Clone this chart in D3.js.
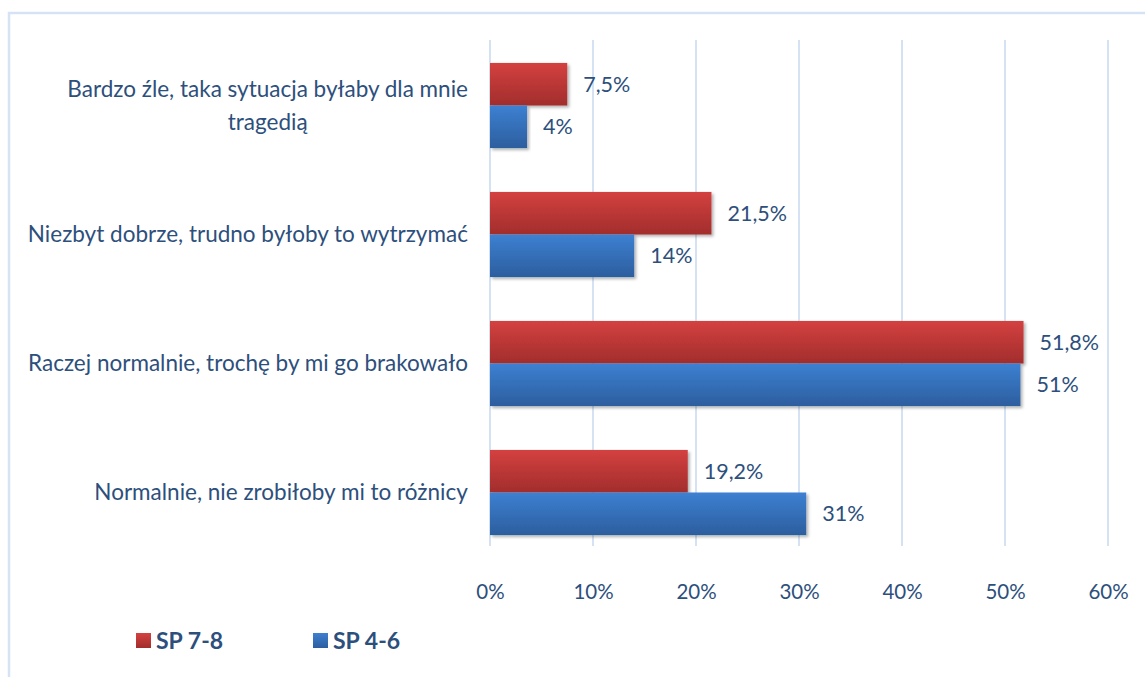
<!DOCTYPE html>
<html><head><meta charset="utf-8">
<script src="https://cdn.jsdelivr.net/npm/d3@7"></script>
<style>body{margin:0;background:#fff;} svg{display:block;}</style>
</head><body>
<script>
const categories = [
  ["Bardzo źle, taka sytuacja byłaby dla mnie", "tragedią"],
  ["Niezbyt dobrze, trudno byłoby to wytrzymać"],
  ["Raczej normalnie, trochę by mi go brakowało"],
  ["Normalnie, nie zrobiłoby mi to różnicy"]
];
const seriesNames = ["SP 7-8", "SP 4-6"];
const sp78Values = [7.5, 21.5, 51.8, 19.2];
const sp78Labels = ["7,5%", "21,5%", "51,8%", "19,2%"];
const sp46Values = [3.6, 14.0, 51.5, 30.7];
const sp46Labels = ["4%", "14%", "51%", "31%"];
const tickValues = [0, 10, 20, 30, 40, 50, 60];
const tickLabels = ["0%", "10%", "20%", "30%", "40%", "50%", "60%"];

const W = 1145, H = 677;
const txt = "#2d4f7c";
const font = "Lato, 'Open Sans', sans-serif";
const svg = d3.select("body").append("svg").attr("width", W).attr("height", H);
const defs = svg.append("defs");
function grad(id, c1, c2) {
  const g = defs.append("linearGradient").attr("id", id).attr("x1", 0).attr("y1", 0).attr("x2", 0).attr("y2", 1);
  g.append("stop").attr("offset", "0%").attr("stop-color", c1);
  g.append("stop").attr("offset", "100%").attr("stop-color", c2);
}
grad("gRed", "#d44140", "#a22d2c");
grad("gBlue", "#3d80d2", "#2c5e9e");
const f = defs.append("filter").attr("id", "sh").attr("x", "-5%").attr("y", "-10%").attr("width", "115%").attr("height", "130%");
f.append("feDropShadow").attr("dx", 2).attr("dy", 2).attr("stdDeviation", 1.5).attr("flood-color", "#000").attr("flood-opacity", 0.3);

// frame
svg.append("path").attr("d", "M9,677 V13 H1145").attr("fill", "none").attr("stroke", "#d5e3f4").attr("stroke-width", 2.5);

const x = d3.scaleLinear().domain([0, 60]).range([490, 1108]);
const y = d3.scaleBand().domain(d3.range(categories.length)).range([41, 557]).paddingInner(0.34).paddingOuter(0.17);
const sub = d3.scaleBand().domain([0, 1]).range([0, y.bandwidth()]);

// gridlines
svg.append("g").selectAll("line").data(tickValues).join("line")
  .attr("x1", d => x(d)).attr("x2", d => x(d)).attr("y1", 40).attr("y2", 546)
  .attr("stroke", "#d5e2f3").attr("stroke-width", 2);

// axis labels
const xAxis = d3.axisBottom(x).tickValues(tickValues).tickFormat((d, i) => tickLabels[i]).tickSize(0).tickPadding(0);
const ax = svg.append("g").attr("transform", "translate(0,584)").call(xAxis);
ax.select(".domain").remove();
ax.selectAll("text").attr("fill", txt).attr("font-family", font).attr("font-size", 20.5);

const series = [
  {vals: sp78Values, labels: sp78Labels, fill: "url(#gRed)"},
  {vals: sp46Values, labels: sp46Labels, fill: "url(#gBlue)"}
];
series.forEach((s, si) => {
  const g = svg.append("g");
  g.selectAll("rect").data(s.vals).join("rect")
    .attr("x", x(0)).attr("y", (d, i) => y(i) + sub(si))
    .attr("width", d => x(d) - x(0)).attr("height", sub.bandwidth())
    .attr("fill", s.fill).attr("filter", "url(#sh)");
  g.selectAll("text").data(s.vals).join("text")
    .attr("x", d => x(d) + 16).attr("y", (d, i) => y(i) + sub(si) + sub.bandwidth() / 2)
    .attr("dy", "0.35em").attr("fill", txt).attr("font-family", font).attr("font-size", 21.5)
    .text((d, i) => s.labels[i]);
});

// category labels
categories.forEach((lines, i) => {
  const cy = y(i) + y.bandwidth() / 2;
  const lh = 33;
  const t = svg.append("text").attr("fill", txt).attr("font-family", font).attr("font-size", 22.5)
    .attr("text-anchor", "middle");
  lines.forEach((l, j) => {
    t.append("tspan").attr("x", 0).attr("y", cy + (j - (lines.length - 1) / 2) * lh).attr("dy", "0.35em").text(l);
  });
  const bb = t.node().getBBox();
  t.attr("transform", `translate(${468 - bb.width / 2},0)`);
});

// legend
const legX = [136, 313];
seriesNames.forEach((n, i) => {
  svg.append("rect").attr("x", legX[i]).attr("y", 633).attr("width", 15).attr("height", 15)
    .attr("fill", series[i].fill);
  svg.append("text").attr("x", legX[i] + 20).attr("y", 641).attr("dy", "0.35em")
    .attr("fill", txt).attr("font-family", font).attr("font-size", 23).attr("font-weight", "bold").text(n);
});
</script>
</body></html>
